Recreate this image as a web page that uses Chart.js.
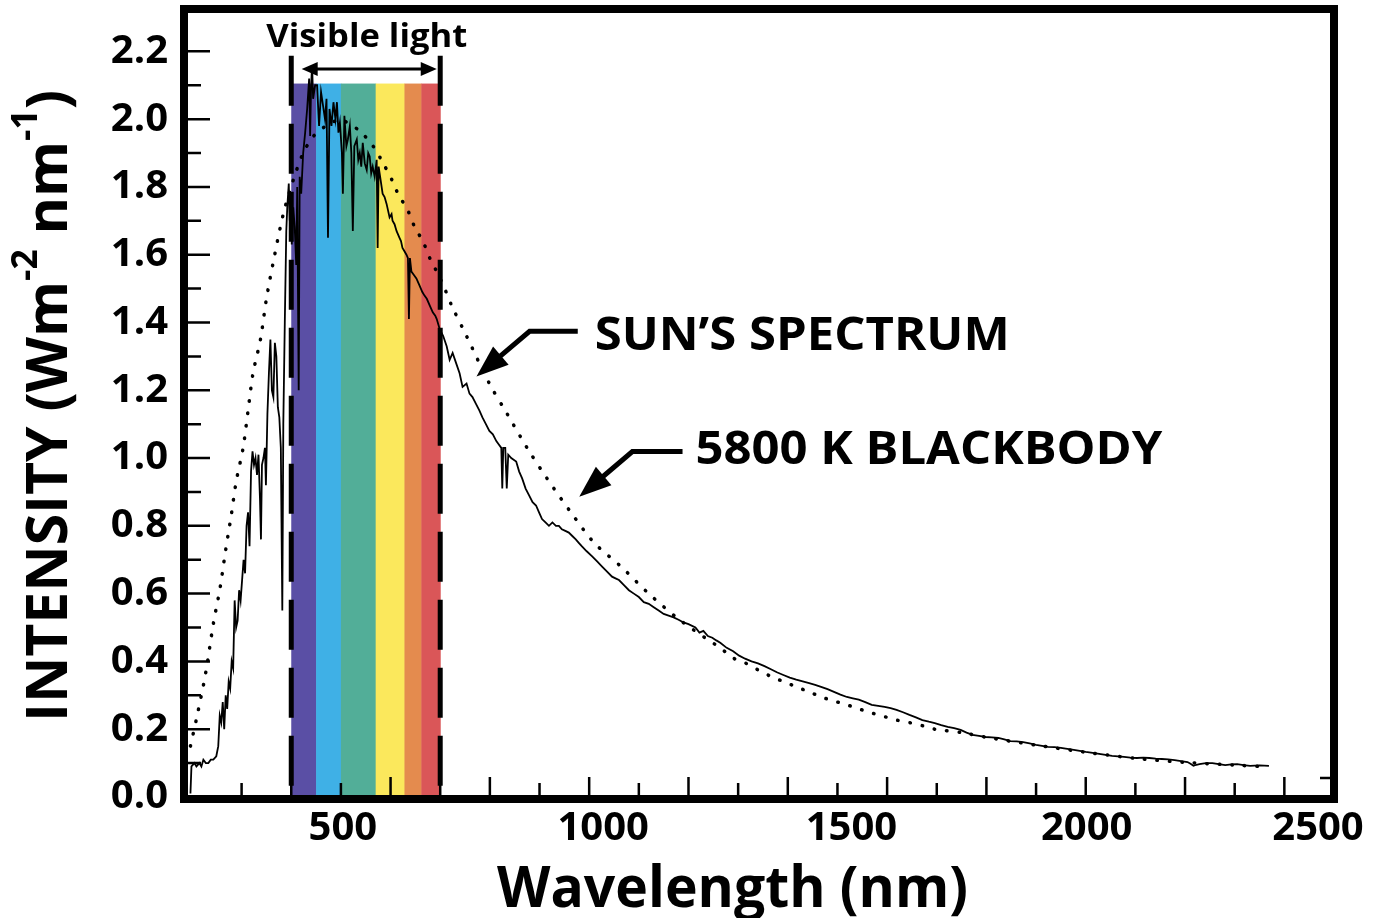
<!DOCTYPE html>
<html>
<head>
<meta charset="utf-8">
<script src="https://cdn.jsdelivr.net/npm/chart.js@4.4.1/dist/chart.umd.min.js"></script>
<style>
  html, body { margin: 0; padding: 0; background: #fff; }
  #wrap { width: 1379px; height: 918px; }
</style>
</head>
<body>
<div id="wrap"><canvas id="c"></canvas></div>
<script>
// wavelength (nm) / intensity (W m-2 nm-1)
const sunNm = [197, 199, 205, 209, 215, 219, 223, 228, 233, 238, 243, 249, 253, 256, 259, 262, 265, 268, 271, 274,
  277, 280, 283, 286, 289, 292, 295, 298, 301, 304, 307, 310, 313, 316, 319, 322, 325, 328, 331, 334,
  337, 339, 341, 344, 347, 349, 352, 355, 358, 361, 364, 367, 370, 373, 376, 379, 382, 384, 387, 390,
  392, 395, 397, 399, 401, 404, 407, 410, 412, 415, 417, 420, 424, 428, 432, 436, 438, 440, 442, 444,
  448, 452, 456, 460, 464, 468, 471, 474, 477, 481, 485, 489, 492, 495, 498, 502, 504, 507, 511, 514,
  518, 521, 524, 527, 532, 535, 538, 541, 544, 548, 552, 555, 558, 561, 564, 568, 572, 574, 576, 578,
  582, 584, 588, 592, 595, 598, 602, 604, 608, 612, 615, 618, 621, 624, 628, 632, 635, 637, 639, 642,
  647, 652, 658, 664, 668, 673, 679, 685, 690, 693, 699, 706, 713, 719, 725, 732, 739, 745, 753, 759,
  765, 772, 779, 785, 792, 799, 806, 813, 818, 823, 825, 827, 831, 834, 837, 843, 853, 859, 865, 872,
  879, 886, 893, 899, 905, 912, 919, 926, 933, 939, 945, 952, 959, 966, 973, 979, 985, 995, 1006, 1016,
  1026, 1036, 1046, 1053, 1060, 1070, 1080, 1090, 1100, 1110, 1120, 1130, 1140, 1150, 1160, 1170, 1180, 1190, 1200, 1214,
  1222, 1230, 1239, 1248, 1256, 1264, 1277, 1290, 1302, 1314, 1327, 1340, 1353, 1366, 1378, 1391, 1404, 1417, 1430, 1443,
  1455, 1467, 1480, 1493, 1506, 1519, 1531, 1543, 1556, 1569, 1582, 1595, 1607, 1619, 1632, 1645, 1658, 1671, 1684, 1696,
  1709, 1722, 1735, 1748, 1760, 1772, 1785, 1798, 1811, 1824, 1836, 1848, 1861, 1874, 1887, 1900, 1912, 1924, 1937, 1950,
  1963, 1976, 1988, 2000, 2014, 2027, 2040, 2053, 2065, 2077, 2090, 2103, 2116, 2128, 2141, 2153, 2166, 2179, 2192, 2205,
  2211, 2217, 2223, 2229, 2242, 2255, 2268, 2281, 2293, 2305, 2318, 2331, 2350, 2369];
const sunVal = [0.01, 0.09, 0.1, 0.09, 0.1, 0.09, 0.11, 0.1, 0.1, 0.11, 0.11, 0.12, 0.15, 0.24, 0.22, 0.28, 0.2, 0.3, 0.26, 0.34,
  0.32, 0.4, 0.38, 0.58, 0.5, 0.52, 0.61, 0.58, 0.64, 0.7, 0.66, 0.8, 0.84, 0.74, 0.96, 1.02, 0.98, 1.0, 0.95, 1.01,
  0.88, 0.76, 0.98, 1.0, 1.03, 0.92, 1.13, 1.25, 1.35, 1.2, 1.18, 1.34, 1.3, 1.15, 1.12, 1.03, 0.55, 1.1, 1.4, 1.67,
  1.74, 1.81, 1.7, 1.78, 1.63, 1.74, 1.68, 1.57, 1.8, 1.2, 1.83, 1.78, 1.9, 1.96, 2.03, 2.12, 1.95, 2.1, 2.16, 2.06,
  2.1, 2.1, 1.98, 2.08, 2.04, 2.0, 2.06, 1.65, 2.03, 1.98, 2.05, 2.0, 2.05, 1.96, 1.99, 1.9, 1.78, 2.01, 1.92, 1.94,
  1.98, 1.9, 1.67, 1.92, 1.94, 1.88, 1.9, 1.86, 1.93, 1.87, 1.85, 1.9, 1.89, 1.84, 1.86, 1.83, 1.88, 1.62, 1.86, 1.84,
  1.8, 1.78, 1.77, 1.75, 1.73, 1.71, 1.72, 1.7, 1.69, 1.67, 1.66, 1.65, 1.64, 1.62, 1.61, 1.6, 1.59, 1.41, 1.59, 1.55,
  1.54, 1.53, 1.51, 1.49, 1.48, 1.47, 1.45, 1.43, 1.42, 1.41, 1.38, 1.36, 1.33, 1.29, 1.31, 1.28, 1.25, 1.21, 1.22, 1.19,
  1.18, 1.16, 1.14, 1.12, 1.1, 1.08, 1.07, 1.05, 1.04, 1.03, 0.91, 1.03, 1.03, 0.91, 1.01, 1.0, 0.99, 0.96, 0.94, 0.91,
  0.89, 0.87, 0.86, 0.84, 0.82, 0.81, 0.8, 0.81, 0.8, 0.8, 0.79, 0.785, 0.78, 0.77, 0.76, 0.75, 0.74, 0.725, 0.71, 0.695,
  0.68, 0.665, 0.65, 0.645, 0.64, 0.625, 0.61, 0.6, 0.59, 0.575, 0.57, 0.56, 0.55, 0.54, 0.535, 0.53, 0.523, 0.515, 0.51, 0.5,
  0.485, 0.49, 0.475, 0.47, 0.462, 0.455, 0.44, 0.43, 0.417, 0.408, 0.4, 0.394, 0.386, 0.377, 0.368, 0.36, 0.352, 0.346, 0.341, 0.336,
  0.331, 0.325, 0.318, 0.31, 0.302, 0.295, 0.291, 0.287, 0.28, 0.272, 0.269, 0.266, 0.262, 0.257, 0.25, 0.242, 0.235, 0.227, 0.222, 0.218,
  0.212, 0.207, 0.203, 0.198, 0.19, 0.183, 0.18, 0.177, 0.176, 0.174, 0.17, 0.165, 0.164, 0.162, 0.158, 0.154, 0.151, 0.148, 0.147, 0.145,
  0.142, 0.139, 0.136, 0.133, 0.13, 0.127, 0.124, 0.121, 0.12, 0.118, 0.116, 0.115, 0.116, 0.115, 0.113, 0.112, 0.111, 0.109, 0.106, 0.103,
  0.098, 0.092, 0.095, 0.097, 0.1, 0.1, 0.097, 0.094, 0.096, 0.097, 0.094, 0.092, 0.093, 0.092];

const bbNm = [197, 209, 227, 243, 257, 267, 279, 289, 303, 313, 323, 338, 350, 364, 384, 404, 424, 445, 470, 500,
  512, 538, 565, 585, 603, 615, 635, 649, 665, 679, 693, 709, 723, 753, 799, 835, 875, 915, 963, 1010,
  1064, 1120, 1180, 1239, 1264, 1290, 1315, 1340, 1367, 1392, 1417, 1443, 1468, 1493, 1519, 1543, 1569, 1595, 1619, 1646,
  1672, 1696, 1750, 1800, 1900, 2000, 2100, 2200, 2300, 2350];
const bbVal = [0.15, 0.23, 0.36, 0.51, 0.62, 0.72, 0.83, 0.93, 1.03, 1.14, 1.25, 1.35, 1.47, 1.58, 1.72, 1.82, 1.9, 1.95, 1.98, 2.0,
  1.99, 1.965, 1.92, 1.87, 1.82, 1.78, 1.73, 1.68, 1.64, 1.59, 1.55, 1.5, 1.45, 1.36, 1.22, 1.13, 1.03, 0.94, 0.84, 0.75,
  0.68, 0.6, 0.525, 0.464, 0.44, 0.41, 0.395, 0.375, 0.355, 0.34, 0.325, 0.31, 0.295, 0.283, 0.272, 0.26, 0.248, 0.237, 0.227, 0.219,
  0.21, 0.2, 0.19, 0.176, 0.153, 0.132, 0.114, 0.102, 0.094, 0.09];

const yTicks = [0, 0.2, 0.4, 0.6, 0.8, 1.0, 1.2, 1.4, 1.6, 1.8, 2.0, 2.2];
const xLabels = [500, 1000, 1500, 2000, 2500];
const bandEdges = [400, 450, 500, 570, 628, 662, 700];
const bandColors = ['#5a4fa5', '#3fb0e6', '#52ae98', '#fbe85c', '#e48b4e', '#da5658'];
const visibleRange = [400, 700];

const FONT = "'Open Sans', 'Liberation Sans', sans-serif";
const xLabelNudge = [2, 14, 14, 1, -16];

// draw text squeezed/stretched to an exact width
function fitText(ctx, text, x, y, width, font, align) {
  ctx.save();
  ctx.font = font;
  const w = ctx.measureText(text).width;
  const sx = width / w;
  const left = align === 'center' ? x - width / 2 : x;
  ctx.translate(left, y);
  ctx.scale(sx, 1);
  ctx.textAlign = 'left';
  ctx.textBaseline = 'alphabetic';
  ctx.fillText(text, 0, 0);
  ctx.restore();
}

function arrowHead(ctx, x1, y1, x2, y2, len, half) {
  const a = Math.atan2(y2 - y1, x2 - x1);
  const c = Math.cos(a), s = Math.sin(a);
  ctx.beginPath();
  ctx.moveTo(x2, y2);
  ctx.lineTo(x2 - len * c + half * s, y2 - len * s - half * c);
  ctx.lineTo(x2 - len * c - half * s, y2 - len * s + half * c);
  ctx.closePath();
  ctx.fill();
}

function pointer(ctx, xs, ys, pts) {
  // pts: [tail, bend, tip] in data units
  const p = pts.map(([nm, v]) => [xs.getPixelForValue(nm), ys.getPixelForValue(v)]);
  ctx.lineWidth = 5;
  ctx.lineCap = 'butt';
  ctx.lineJoin = 'miter';
  const a = Math.atan2(p[2][1] - p[1][1], p[2][0] - p[1][0]);
  ctx.beginPath();
  ctx.moveTo(p[0][0], p[0][1]);
  ctx.lineTo(p[1][0], p[1][1]);
  ctx.lineTo(p[2][0] - 20 * Math.cos(a), p[2][1] - 20 * Math.sin(a));
  ctx.stroke();
  arrowHead(ctx, p[1][0], p[1][1], p[2][0], p[2][1], 32, 12);
}

const decor = {
  id: 'decor',
  beforeDatasetsDraw(chart) {
    const { ctx, chartArea: ca, scales: { x, y } } = chart;
    ctx.save();
    const top = y.getPixelForValue(2.105);
    for (let i = 0; i < bandColors.length; i++) {
      const x0 = x.getPixelForValue(bandEdges[i]);
      const x1 = x.getPixelForValue(bandEdges[i + 1]);
      ctx.fillStyle = bandColors[i];
      ctx.fillRect(x0, top, x1 - x0 + 0.5, ca.bottom - top);
    }
    ctx.restore();
  },
  afterDatasetsDraw(chart) {
    const { ctx, chartArea: ca, scales: { x, y } } = chart;
    ctx.save();
    ctx.fillStyle = '#000';
    ctx.strokeStyle = '#000';

    // visible light dashed bounds
    ctx.lineWidth = 5;
    ctx.setLineDash([50, 18]);
    visibleRange.forEach(nm => {
      const px = x.getPixelForValue(nm);
      ctx.beginPath();
      ctx.moveTo(px, y.getPixelForValue(2.187));
      ctx.lineTo(px, ca.bottom);
      ctx.stroke();
    });
    ctx.setLineDash([]);

    // double arrow
    const ay = y.getPixelForValue(2.148);
    const ax0 = x.getPixelForValue(421), ax1 = x.getPixelForValue(693);
    ctx.lineWidth = 3;
    ctx.beginPath();
    ctx.moveTo(ax0 + 10, ay);
    ctx.lineTo(ax1 - 10, ay);
    ctx.stroke();
    arrowHead(ctx, ax1, ay, ax0, ay, 16, 7);
    arrowHead(ctx, ax0, ay, ax1, ay, 16, 7);

    fitText(ctx, 'Visible light', x.getPixelForValue(552), y.getPixelForValue(2.213), 201, `bold 32px ${FONT}`, 'center');

    // frame
    ctx.lineWidth = 8;
    ctx.strokeRect(ca.left, ca.top, ca.right - ca.left, ca.bottom - ca.top);

    // inner tick marks
    ctx.lineWidth = 2.5;
    ctx.beginPath();
    for (let nm = 300; nm <= 2400; nm += 100) {
      const px = x.getPixelForValue(nm);
      ctx.moveTo(px, ca.bottom);
      ctx.lineTo(px, ca.bottom - (nm % 200 === 0 ? 22 : 16));
    }
    for (let k = 1; k <= 22; k++) {
      const py = y.getPixelForValue(k / 10);
      ctx.moveTo(ca.left, py);
      ctx.lineTo(ca.left + (k % 2 === 0 ? 26 : 17), py);
    }
    const rt = y.getPixelForValue(0.056);
    ctx.moveTo(ca.right, rt);
    ctx.lineTo(ca.right - 14, rt);
    ctx.stroke();

    // x tick labels
    ctx.font = `bold 40px ${FONT}`;
    ctx.textAlign = 'center';
    ctx.textBaseline = 'alphabetic';
    xLabels.forEach((v, i) => {
      ctx.fillText(String(v), x.getPixelForValue(v) + xLabelNudge[i], 840);
    });

    // axis titles
    fitText(ctx, 'Wavelength (nm)', 497, 907, 471, `bold 58px ${FONT}`, 'left');

    const parts = [['INTENSITY (Wm', 0], ['-2', 1], [' nm', 0], ['-1', 1], [')', 0]];
    const mainF = `bold 58px ${FONT}`, supF = `bold 36px ${FONT}`;
    let total = 0;
    parts.forEach(p => { ctx.font = p[1] ? supF : mainF; total += ctx.measureText(p[0]).width; });
    const yBottom = 722, yTop = 90;
    ctx.save();
    ctx.translate(67, yBottom);
    ctx.rotate(-Math.PI / 2);
    ctx.scale((yBottom - yTop) / total, 1);
    ctx.textAlign = 'left';
    let tx = 0;
    parts.forEach(p => {
      ctx.font = p[1] ? supF : mainF;
      ctx.fillText(p[0], tx, p[1] ? -30 : 0);
      tx += ctx.measureText(p[0]).width;
    });
    ctx.restore();

    // annotations
    pointer(ctx, x, y, [[977, 1.374], [880, 1.374], [773, 1.241]]);
    pointer(ctx, x, y, [[1188, 1.019], [1087, 1.019], [980, 0.886]]);
    fitText(ctx, 'SUN\u2019S SPECTRUM', x.getPixelForValue(1011), y.getPixelForValue(1.32), 415, `bold 46px ${FONT}`, 'left');
    fitText(ctx, '5800 K BLACKBODY', x.getPixelForValue(1214), y.getPixelForValue(0.981), 467, `bold 46px ${FONT}`, 'left');

    ctx.restore();
  }
};

new Chart(document.getElementById('c'), {
  type: 'line',
  data: {
    datasets: [
      {
        label: '5800 K blackbody',
        data: bbNm.map((nm, i) => ({ x: nm, y: bbVal[i] })),
        borderColor: '#000',
        borderWidth: 3.5,
        borderDash: [0.5, 12],
        borderCapStyle: 'round',
        pointRadius: 0,
        tension: 0.3,
        fill: false
      },
      {
        label: "Sun's spectrum",
        data: sunNm.map((nm, i) => ({ x: nm, y: sunVal[i] })),
        borderColor: '#000',
        borderWidth: 1.8,
        pointRadius: 0,
        tension: 0,
        fill: false
      }
    ]
  },
  options: {
    responsive: true,
    maintainAspectRatio: false,
    animation: false,
    layout: { padding: { top: 9, right: 45, left: 0, bottom: 0 } },
    plugins: { legend: { display: false }, tooltip: { enabled: false } },
    scales: {
      x: {
        type: 'linear',
        min: 184,
        max: 2500,
        ticks: { display: false },
        grid: { display: false, drawTicks: false },
        border: { display: false },
        afterFit(s) { s.height = 119; s.paddingLeft = 0; s.paddingRight = 0; }
      },
      y: {
        min: -0.006,
        max: 2.325,
        afterBuildTicks(s) { s.ticks = yTicks.map(v => ({ value: v })); },
        ticks: {
          autoSkip: false,
          color: '#000',
          padding: 16,
          font: { family: FONT, weight: 'bold', size: 40 },
          callback: v => Number(v).toFixed(1)
        },
        grid: { display: false, drawTicks: false },
        border: { display: false },
        afterFit(s) { s.width = 184; s.paddingTop = 0; s.paddingBottom = 0; }
      }
    }
  },
  plugins: [decor]
});
</script>
</body>
</html>
